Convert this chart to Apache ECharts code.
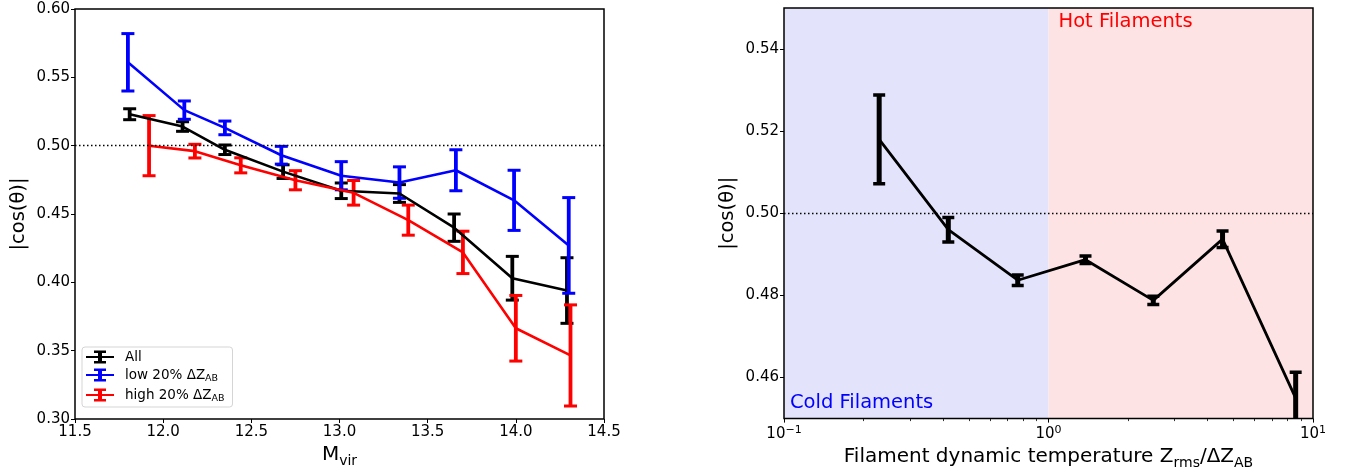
<!DOCTYPE html>
<html>
<head>
<meta charset="utf-8">
<script src="https://cdn.jsdelivr.net/npm/echarts@6/dist/echarts.min.js"></script>
<style>
html,body{margin:0;padding:0;background:#fff;}
#chart{width:1351px;height:475px;}
</style>
</head>
<body>
<div id="chart"></div>
<script>
// ---------- Left panel data: |cos(theta)| vs M_vir ----------
const seriesNames = ['All', 'low 20% ΔZ_AB', 'high 20% ΔZ_AB'];
const seriesColors = ['#000000', '#0000ff', '#ff0000'];

const massAll  = [11.81, 12.11, 12.35, 12.68, 13.01, 13.34, 13.65, 13.98, 14.29];
const cosAll   = [0.523, 0.514, 0.497, 0.481, 0.467, 0.465, 0.440, 0.403, 0.394];
const errAll   = [0.004, 0.0035, 0.0035, 0.005, 0.0057, 0.0065, 0.010, 0.016, 0.024];

const massLow  = [11.80, 12.12, 12.35, 12.67, 13.01, 13.34, 13.66, 13.99, 14.30];
const cosLow   = [0.561, 0.526, 0.513, 0.493, 0.478, 0.473, 0.482, 0.460, 0.427];
const errLow   = [0.021, 0.0067, 0.005, 0.0065, 0.0103, 0.0115, 0.015, 0.022, 0.035];

const massHigh = [11.92, 12.18, 12.44, 12.75, 13.08, 13.39, 13.70, 14.00, 14.31];
const cosHigh  = [0.500, 0.496, 0.4856, 0.4747, 0.4655, 0.4455, 0.4219, 0.3664, 0.3465];
const errHigh  = [0.022, 0.005, 0.0055, 0.007, 0.009, 0.011, 0.0155, 0.024, 0.037];

const leftXTicks = [11.5, 12.0, 12.5, 13.0, 13.5, 14.0, 14.5];
const leftYTicks = [0.30, 0.35, 0.40, 0.45, 0.50, 0.55, 0.60];

// ---------- Right panel data: |cos(theta)| vs filament temperature ----------
const tempX    = [0.229, 0.418, 0.765, 1.38, 2.49, 4.55, 8.6];
const cosTemp  = [0.518, 0.496, 0.4837, 0.4887, 0.4788, 0.4937, 0.455];
const errTemp  = [0.0108, 0.003, 0.0013, 0.0009, 0.001, 0.002, 0.0063];

const rightXMajor = [0.1, 1, 10];
const rightXMinor = [0.2, 0.3, 0.4, 0.5, 0.6, 0.7, 0.8, 0.9, 2, 3, 4, 5, 6, 7, 8, 9];
const rightYTicks = [0.46, 0.48, 0.50, 0.52, 0.54];

const regionNames  = ['Cold Filaments', 'Hot Filaments'];
const regionBounds = [0.1, 1, 10];
const regionFill   = ['#e3e3fb', '#fde3e3'];
const regionText   = ['#0000ff', '#ff0000'];

const refLine = 0.5;

// ---------- helpers ----------
const FONT = 'DejaVu Sans';
function zip3(a, b, c) { return a.map((v, i) => [v, b[i], c[i]]); }
function zip2(a, b) { return a.map((v, i) => [v, b[i]]); }

function errRender(capHalf, barW, capW) {
  return function (params, api) {
    const x = api.value(0), y = api.value(1), e = api.value(2);
    const top = api.coord([x, y + e]);
    const bot = api.coord([x, y - e]);
    const color = api.visual('color');
    return {
      type: 'group',
      children: [
        { type: 'line', shape: { x1: top[0], y1: top[1], x2: bot[0], y2: bot[1] }, style: { stroke: color, lineWidth: barW } },
        { type: 'line', shape: { x1: top[0] - capHalf, y1: top[1], x2: top[0] + capHalf, y2: top[1] }, style: { stroke: color, lineWidth: capW } },
        { type: 'line', shape: { x1: bot[0] - capHalf, y1: bot[1], x2: bot[0] + capHalf, y2: bot[1] }, style: { stroke: color, lineWidth: capW } }
      ]
    };
  };
}

const errIcon = 'path://M0,5.5H28V7.5H0Z M12,0.5H16V12.5H12Z M8,0H20V2.5H8Z M8,10.5H20V13H8Z';

const leftX = [massAll, massLow, massHigh];
const leftY = [cosAll, cosLow, cosHigh];
const leftE = [errAll, errLow, errHigh];

const series = [];
for (let k = 0; k < 3; k++) {
  const line = {
    name: seriesNames[k], type: 'line', xAxisIndex: 0, yAxisIndex: 0,
    data: zip2(leftX[k], leftY[k]), symbol: 'none', showSymbol: false,
    lineStyle: { color: seriesColors[k], width: 2.6 },
    itemStyle: { color: seriesColors[k] },
    animation: false, silent: true, z: 2
  };
  if (k === 0) {
    line.markLine = {
      silent: true, symbol: ['none', 'none'], animation: false,
      label: { show: false },
      lineStyle: { type: [1.5, 2.5], color: '#000', width: 1.3 },
      data: [{ yAxis: refLine }]
    };
  }
  series.push(line);
  series.push({
    name: seriesNames[k], type: 'custom', xAxisIndex: 0, yAxisIndex: 0,
    data: zip3(leftX[k], leftY[k], leftE[k]),
    encode: { x: 0, y: 1 },
    renderItem: errRender(6.5, 3.8, 3),
    itemStyle: { color: seriesColors[k] },
    animation: false, silent: true, clip: true, z: 2
  });
}

// right panel
series.push({
  name: 'temp', type: 'line', xAxisIndex: 1, yAxisIndex: 1,
  data: zip2(tempX, cosTemp), symbol: 'none', showSymbol: false,
  lineStyle: { color: '#000', width: 2.8 }, itemStyle: { color: '#000' },
  animation: false, silent: true, z: 2,
  markLine: {
    silent: true, symbol: ['none', 'none'], animation: false,
    label: { show: false },
    lineStyle: { type: [1.5, 2.5], color: '#000', width: 1.3 },
    data: [{ yAxis: refLine }]
  },
  markArea: {
    silent: true, animation: false,
    data: regionNames.map((nm, i) => [
      {
        xAxis: regionBounds[i], name: nm,
        itemStyle: { color: regionFill[i] },
        label: {
          show: true, position: i === 0 ? 'insideBottomLeft' : 'insideTopLeft',
          offset: i === 0 ? [1, -1] : [5, -1],
          color: regionText[i], fontSize: 19.5, fontFamily: FONT
        }
      },
      { xAxis: regionBounds[i + 1] }
    ])
  }
});
series.push({
  name: 'tempErr', type: 'custom', xAxisIndex: 1, yAxisIndex: 1,
  data: zip3(tempX, cosTemp, errTemp), encode: { x: 0, y: 1 },
  renderItem: errRender(6, 5, 3.5),
  itemStyle: { color: '#000' },
  animation: false, silent: true, clip: true, z: 3
});

const tickLabel = { color: '#000', fontSize: 15, fontFamily: FONT };
const axisNameStyle = { color: '#000', fontSize: 19.5, fontFamily: FONT };
const subRich = {
  m: { fontSize: 20, fontFamily: FONT, color: '#000', lineHeight: 26 },
  s: { fontSize: 14, fontFamily: FONT, color: '#000', verticalAlign: 'bottom', lineHeight: 14 }
};

const option = {
  backgroundColor: '#fff',
  animation: false,
  grid: [
    { left: 75, top: 9, width: 529, height: 410, show: true, borderColor: '#000', borderWidth: 1.5, backgroundColor: 'transparent', z: 10 },
    { left: 784, top: 8, width: 529, height: 411, show: true, borderColor: '#000', borderWidth: 1.5, backgroundColor: 'transparent', z: 10 }
  ],
  legend: {
    left: 82, top: 347, orient: 'vertical',
    data: seriesNames.map((n, i) => ({ name: n, icon: errIcon, itemStyle: { color: seriesColors[i] } })),
    itemWidth: 28, itemHeight: 13, itemGap: 4,
    padding: [3, 8, 3, 4],
    backgroundColor: 'rgba(255,255,255,0.85)',
    borderColor: '#d5d5d5', borderWidth: 1, borderRadius: 3,
    selectedMode: false,
    formatter: function (name) {
      const m = name.match(/^(.*)_(\w+)$/);
      return m ? '{t|' + m[1] + '}{s|' + m[2] + '}' : '{t|' + name + '}';
    },
    textStyle: {
      color: '#000', fontSize: 13.5, fontFamily: FONT,
      rich: {
        t: { fontSize: 13.5, fontFamily: FONT, color: '#000', lineHeight: 18, padding: [0, 0, 0, 6] },
        s: { fontSize: 9.5, fontFamily: FONT, color: '#000', verticalAlign: 'bottom', lineHeight: 10 }
      }
    }
  },
  xAxis: [
    {
      gridIndex: 0, type: 'value', position: 'bottom', min: 11.5, max: 14.5, interval: 0.5,
      axisLine: { show: false },
      axisTick: { show: true, length: 4, lineStyle: { color: '#000', width: 1 } },
      axisLabel: { ...tickLabel, margin: 6, formatter: v => v.toFixed(1) },
      splitLine: { show: false },
      name: '{m|M}{s|vir}', nameLocation: 'middle', nameGap: 20,
      nameTextStyle: { ...axisNameStyle, rich: subRich }
    },
    {
      gridIndex: 1, type: 'log', logBase: 10, position: 'bottom', min: 0.1, max: 10,
      axisLine: { show: false },
      axisTick: { show: true, length: 4, customValues: rightXMajor, lineStyle: { color: '#000', width: 1 } },
      axisLabel: {
        ...tickLabel, margin: 6, customValues: rightXMajor,
        formatter: function (v) {
          const e = Math.round(Math.log10(v));
          return '{b|10}{p|' + (e < 0 ? '−' + (-e) : e) + '}';
        },
        rich: {
          b: { fontSize: 15, fontFamily: FONT, color: '#000', lineHeight: 20 },
          p: { fontSize: 11, fontFamily: FONT, color: '#000', verticalAlign: 'top', lineHeight: 11 }
        }
      },
      splitLine: { show: false },
      name: '{m|Filament dynamic temperature Z}{s|rms}{m|/ΔZ}{s|AB}', nameLocation: 'middle', nameGap: 20,
      nameTextStyle: { ...axisNameStyle, rich: subRich }
    },
    {
      gridIndex: 1, type: 'log', logBase: 10, position: 'bottom', min: 0.1, max: 10,
      axisLine: { show: false },
      axisTick: { show: true, length: 2.5, customValues: rightXMinor, lineStyle: { color: '#000', width: 0.8 } },
      axisLabel: { show: false },
      splitLine: { show: false }
    }
  ],
  yAxis: [
    {
      gridIndex: 0, type: 'value', min: 0.30, max: 0.60, interval: 0.05,
      axisLine: { show: false },
      axisTick: { show: true, length: 4, lineStyle: { color: '#000', width: 1 } },
      axisLabel: { ...tickLabel, margin: 5, formatter: v => v.toFixed(2) },
      splitLine: { show: false },
      name: '|cos(θ)|', nameLocation: 'middle', nameGap: 46,
      nameTextStyle: axisNameStyle
    },
    {
      gridIndex: 1, type: 'value', min: 0.45, max: 0.55,
      axisLine: { show: false },
      axisTick: { show: true, length: 4, customValues: rightYTicks, lineStyle: { color: '#000', width: 1 } },
      axisLabel: { ...tickLabel, margin: 5, customValues: rightYTicks, formatter: v => v.toFixed(2) },
      splitLine: { show: false },
      name: '|cos(θ)|', nameLocation: 'middle', nameGap: 46,
      nameTextStyle: axisNameStyle
    }
  ],
  series: series
};
const chart = echarts.init(document.getElementById('chart'), null, { renderer: 'canvas' });
chart.setOption(option);
</script>
</body>
</html>
